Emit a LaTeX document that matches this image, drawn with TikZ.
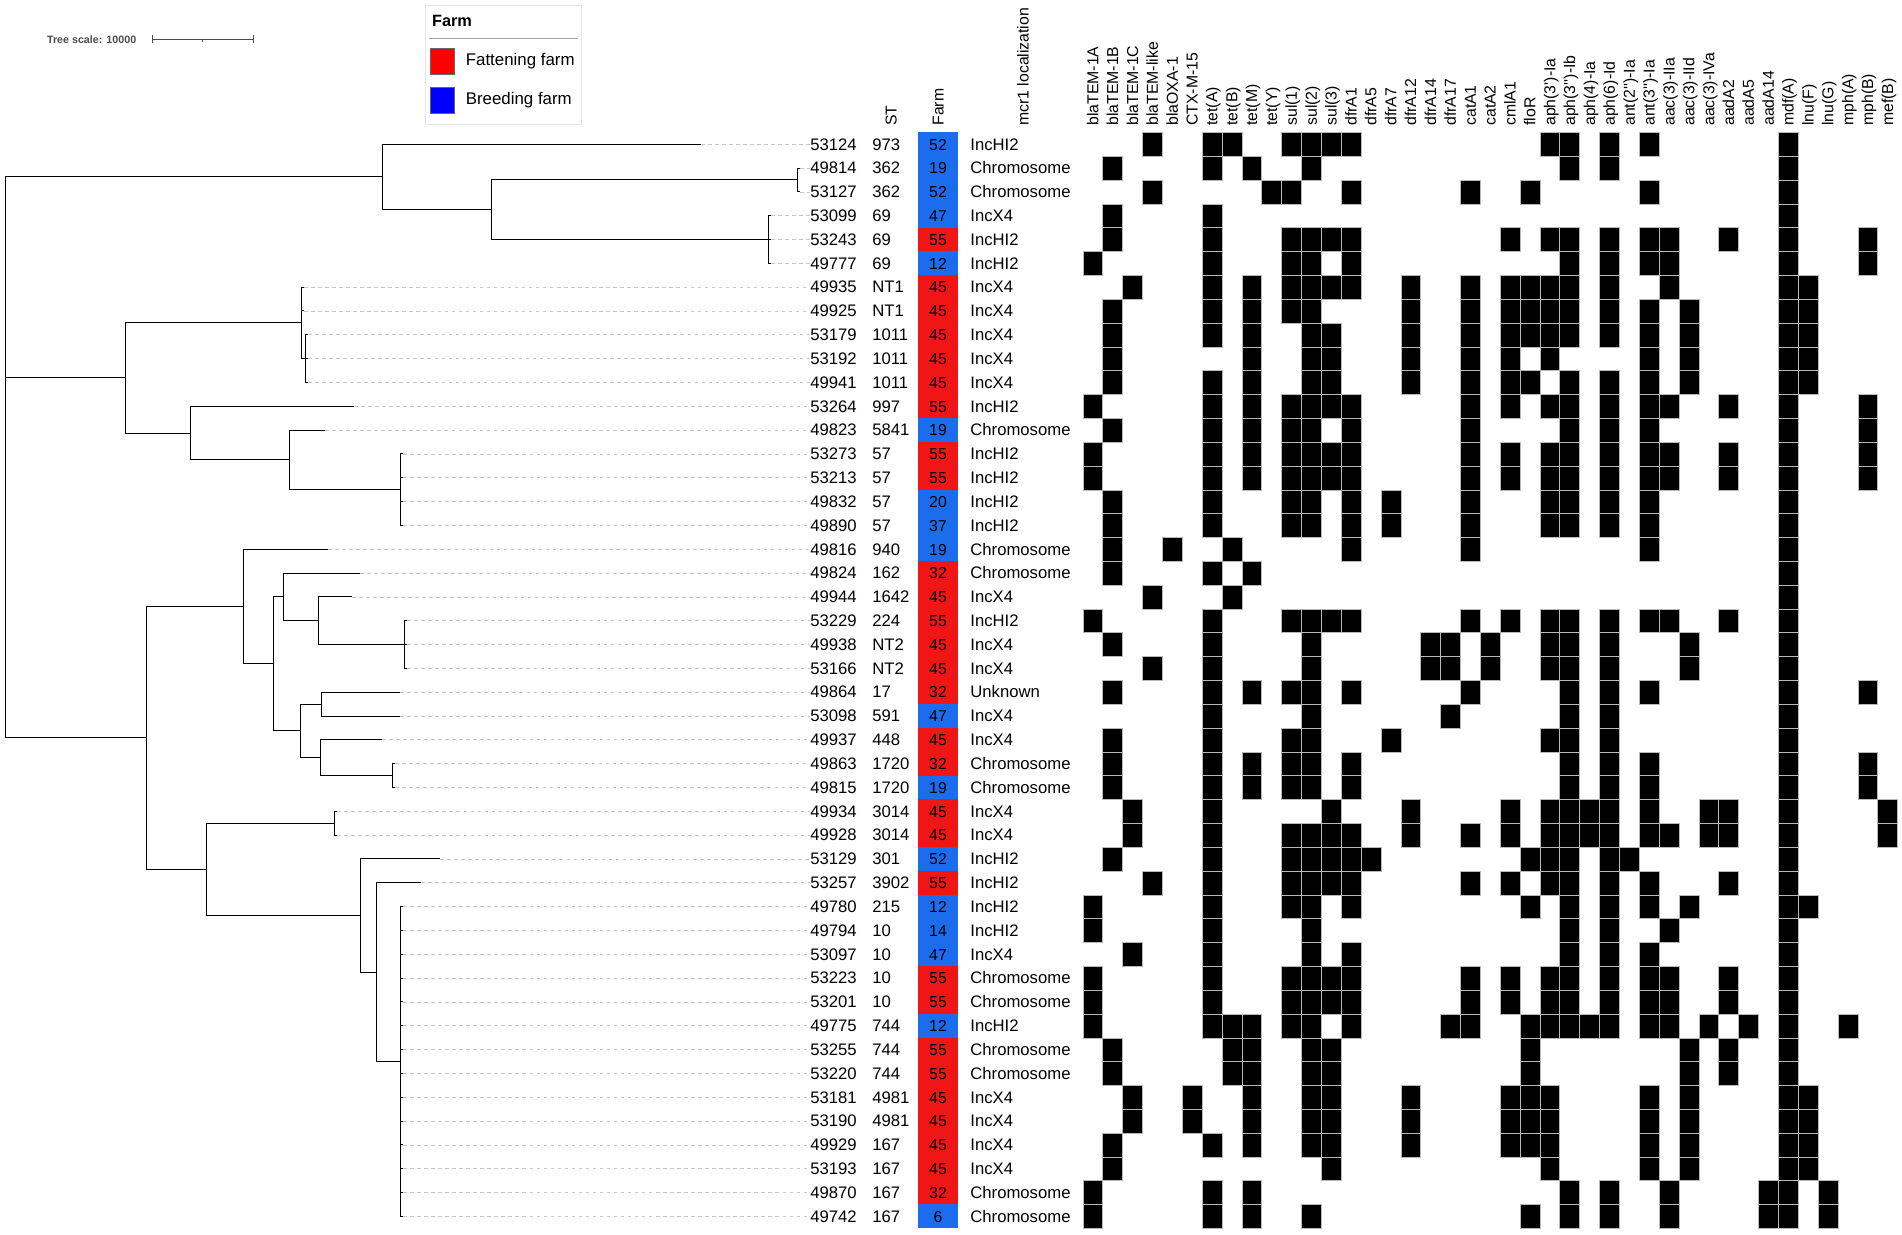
\documentclass[tikz,border=0pt]{standalone}
\usepackage{fontspec}
\setmainfont{Liberation Sans}[Ligatures=TeXOff]
\usetikzlibrary{positioning}

\definecolor{fatred}{RGB}{240,22,22}
\definecolor{breedblue}{RGB}{28,108,238}
\definecolor{legred}{RGB}{255,0,0}
\definecolor{legblue}{RGB}{0,0,255}

\tikzset{
  branch/.style={line width=0.55pt, black},
  leader/.style={gray!45, dashed, dash pattern=on 2pt off 2pt, line width=0.4pt},
  cell/.style={fill=black, draw=gray!55, line width=0.15pt},
  rowlab/.style={anchor=west, inner sep=0pt, text height=6.6pt, text depth=0pt,
    font=\fontsize{9.5}{11}\selectfont},
  farmbox/.style={inner sep=0pt, minimum width=0.788cm, minimum height=0.4766cm,
    text height=6.6pt, text depth=0pt, font=\fontsize{9}{11}\selectfont},
  colhead/.style={rotate=90, anchor=west, inner sep=0pt, text height=6.4pt, text depth=0pt,
    font=\fontsize{9}{11}\selectfont},
  legsq/.style={draw=black!60, line width=0.3pt, minimum width=0.474cm, minimum height=0.52cm, inner sep=0pt},
  legtxt/.style={inner sep=0pt, anchor=west, font=\fontsize{9.6}{11}\selectfont},
  scaletxt/.style={inner sep=0pt, anchor=west, text=black!70, font=\fontsize{6.1}{7}\selectfont\bfseries}
}

\begin{document}
\begin{tikzpicture}[x=0.02cm, y=-0.02cm]
\useasboundingbox (0,0) rectangle (1902,1234);

% tree scale
\node[scaletxt] (tsc) at (46.7,39.4) {Tree scale: 10000};
\coordinate (sb1) at (152.3,39.4);
\coordinate (sb2) at (253.3,39.4);
\coordinate (sbm) at (202.8,39.4);
\draw[black!70, line width=0.5pt] (sb1) -- (sb2);
\draw[black!70, line width=0.5pt] (sb1) ++(0,-4) -- ++(0,8);
\draw[black!70, line width=0.5pt] (sb2) ++(0,-4) -- ++(0,8);
\draw[black!70, line width=0.5pt] (sbm) -- ++(0,2.5);

% legend
\draw[gray!20, line width=0.4pt] (425.5,5.7) rectangle (581.7,124.4);
\node[legtxt, font=\fontsize{9.3}{11}\selectfont\bfseries] (legT) at (431.7,21) {Farm};
\draw[gray!70, line width=0.8pt] (428.6,38.3) -- (577.8,38.3);
\node[legsq, fill=legred] (sqF) at (442.4,60.9) {};
\node[legtxt, right=0.22cm of sqF] (txF) {Fattening farm};
\node[legsq, fill=legblue] (sqB) at (442.4,100.5) {};
\node[legtxt, right=0.22cm of sqB] (txB) {Breeding farm};

% column headers
\node[colhead] (hST) at (891,126) {ST};
\node[colhead] (hFarm) at (938,126) {Farm};
\node[colhead] (hLoc) at (1023,126) {mcr1 localization};
\foreach \g [count=\c from 0] in {blaTEM-1A, blaTEM-1B, blaTEM-1C, blaTEM-like, blaOXA-1, CTX-M-15,
  tet(A), tet(B), tet(M), tet(Y), sul(1), sul(2), sul(3), dfrA1, dfrA5, dfrA7, dfrA12, dfrA14, dfrA17,
  catA1, catA2, cmlA1, floR, aph(3')-Ia, aph(3'')-Ib, aph(4)-Ia, aph(6)-Id, ant(2'')-Ia, ant(3'')-Ia,
  aac(3)-IIa, aac(3)-IId, aac(3)-IVa, aadA2, aadA5, aadA14, mdf(A), lnu(F), lnu(G), mph(A), mph(B), mef(B)}
  \node[colhead] (g\c) at ({1082.7+19.87*(\c+0.5)},126) {\g};

\begin{scope}[shift={(0,144.2)}, y=-0.4766cm]
% isolates: row/tip/id/ST/farm/colour/localization
\foreach \r/\tip/\id/\st/\fm/\fc/\loc in {
  0/701/53124/973/52/breedblue/IncHI2, 1/800/49814/362/19/breedblue/Chromosome,
  2/800/53127/362/52/breedblue/Chromosome, 3/771/53099/69/47/breedblue/IncX4,
  4/771/53243/69/55/fatred/IncHI2, 5/771/49777/69/12/breedblue/IncHI2,
  6/304/49935/NT1/45/fatred/IncX4, 7/304/49925/NT1/45/fatred/IncX4,
  8/308/53179/1011/45/fatred/IncX4, 9/308/53192/1011/45/fatred/IncX4,
  10/308/49941/1011/45/fatred/IncX4, 11/354/53264/997/55/fatred/IncHI2,
  12/325/49823/5841/19/breedblue/Chromosome, 13/403/53273/57/55/fatred/IncHI2,
  14/403/53213/57/55/fatred/IncHI2, 15/403/49832/57/20/breedblue/IncHI2,
  16/403/49890/57/37/breedblue/IncHI2, 17/328/49816/940/19/breedblue/Chromosome,
  18/360/49824/162/32/fatred/Chromosome, 19/352/49944/1642/45/fatred/IncX4,
  20/407/53229/224/55/fatred/IncHI2, 21/407/49938/NT2/45/fatred/IncX4,
  22/407/53166/NT2/45/fatred/IncX4, 23/400/49864/17/32/fatred/Unknown,
  24/400/53098/591/47/breedblue/IncX4, 25/382/49937/448/45/fatred/IncX4,
  26/395/49863/1720/32/fatred/Chromosome, 27/395/49815/1720/19/breedblue/Chromosome,
  28/337/49934/3014/45/fatred/IncX4, 29/337/49928/3014/45/fatred/IncX4,
  30/440/53129/301/52/breedblue/IncHI2, 31/421/53257/3902/55/fatred/IncHI2,
  32/403/49780/215/12/breedblue/IncHI2, 33/403/49794/10/14/breedblue/IncHI2,
  34/403/53097/10/47/breedblue/IncX4, 35/403/53223/10/55/fatred/Chromosome,
  36/403/53201/10/55/fatred/Chromosome, 37/403/49775/744/12/breedblue/IncHI2,
  38/403/53255/744/55/fatred/Chromosome, 39/403/53220/744/55/fatred/Chromosome,
  40/403/53181/4981/45/fatred/IncX4, 41/403/53190/4981/45/fatred/IncX4,
  42/403/49929/167/45/fatred/IncX4, 43/403/53193/167/45/fatred/IncX4,
  44/403/49870/167/32/fatred/Chromosome, 45/403/49742/167/6/breedblue/Chromosome}{
  \coordinate (l\r) at (\tip,\r);
  \node[rowlab] (id\r) at (810,\r) {\id};
  \node[rowlab] (st\r) at (872,\r) {\st};
  \node[farmbox, fill=\fc] (fm\r) at (938,\r) {\fm};
  \node[rowlab] (loc\r) at (970,\r) {\loc};
  \draw[leader] (l\r) -- (id\r.west);
}

% tree
\coordinate (rt) at (5,1.375);
\coordinate (t1) at (382,1.375);
\coordinate (t2) at (491,2.75);
\coordinate (t3) at (797,1.5);
\coordinate (t4) at (768,4);
\coordinate (s1) at (125,9.81);
\coordinate (s2) at (301,7.5);
\coordinate (s21) at (305,9);
\coordinate (s3) at (190,12.125);
\coordinate (s4) at (289,13.25);
\coordinate (s5) at (400,14.5);
\coordinate (u1) at (146,24.92);
\coordinate (u2) at (243,19.4);
\coordinate (v) at (273,21.8);
\coordinate (v1) at (283,19);
\coordinate (v11) at (318,20);
\coordinate (v12) at (404,21);
\coordinate (v2) at (300,24.6);
\coordinate (v21) at (321,23.5);
\coordinate (v22) at (320,25.75);
\coordinate (v23) at (392,26.5);
\coordinate (u3) at (206,30.44);
\coordinate (u31) at (334,28.5);
\coordinate (u32) at (360,32.375);
\coordinate (w) at (376,34.75);
\coordinate (w2) at (400,38.5);
\foreach \p/\q in {rt/t1, rt/s1, rt/u1,
  t1/l0, t1/t2, t2/t3, t2/t4, t3/l1, t3/l2, t4/l3, t4/l4, t4/l5,
  s1/s2, s1/s3, s2/l6, s2/l7, s2/s21, s21/l8, s21/l9, s21/l10,
  s3/l11, s3/s4, s4/l12, s4/s5, s5/l13, s5/l14, s5/l15, s5/l16,
  u1/u2, u1/u3, u2/l17, u2/v, v/v1, v/v2, v1/l18, v1/v11, v11/l19, v11/v12,
  v12/l20, v12/l21, v12/l22, v2/v21, v2/v22, v21/l23, v21/l24, v22/l25, v22/v23,
  v23/l26, v23/l27, u3/u31, u3/u32, u31/l28, u31/l29, u32/l30, u32/w, w/l31, w/w2,
  w2/l32, w2/l33, w2/l34, w2/l35, w2/l36, w2/l37, w2/l38, w2/l39, w2/l40, w2/l41,
  w2/l42, w2/l43, w2/l44, w2/l45}
  \draw[branch] (\p) |- (\q);

% gene presence matrix
\foreach \r/\cols in {
  0/{3,6,7,10,11,12,13,23,24,26,28,35},
  1/{1,6,8,11,24,26,35},
  2/{3,9,10,13,19,22,28,35},
  3/{1,6,35},
  4/{1,6,10,11,12,13,21,23,24,26,28,29,32,35,39},
  5/{0,6,10,11,13,24,26,28,29,35,39},
  6/{2,6,8,10,11,12,13,16,19,21,22,23,24,26,29,35,36},
  7/{1,6,8,10,11,16,19,21,22,23,24,26,28,30,35,36},
  8/{1,6,8,11,12,16,19,21,22,23,24,26,28,30,35,36},
  9/{1,8,11,12,16,19,21,23,28,30,35,36},
  10/{1,6,8,11,12,16,19,21,22,24,26,28,30,35,36},
  11/{0,6,8,10,11,12,13,19,21,23,24,26,28,29,32,35,39},
  12/{1,6,8,10,11,13,19,24,26,28,35,39},
  13/{0,6,8,10,11,12,13,19,21,23,24,26,28,29,32,35,39},
  14/{0,6,8,10,11,12,13,19,21,23,24,26,28,29,32,35,39},
  15/{1,6,10,11,13,15,19,23,24,26,28,35},
  16/{1,6,10,11,13,15,19,23,24,26,28,35},
  17/{1,4,7,13,19,28,35},
  18/{1,6,8,35},
  19/{3,7,35},
  20/{0,6,10,11,12,13,19,21,23,24,26,28,29,32,35},
  21/{1,6,11,17,18,20,23,24,26,30,35},
  22/{3,6,11,17,18,20,23,24,26,30,35},
  23/{1,6,8,10,11,13,19,24,26,28,35,39},
  24/{6,11,18,24,26,35},
  25/{1,6,10,11,15,23,24,26,35},
  26/{1,6,8,10,11,13,24,26,28,35,39},
  27/{1,6,8,10,11,13,24,26,28,35,39},
  28/{2,6,12,16,21,23,24,25,26,28,31,32,35,40},
  29/{2,6,10,11,12,13,16,19,21,23,24,25,26,28,29,31,32,35,40},
  30/{1,6,10,11,12,13,14,22,23,24,26,27,35},
  31/{3,6,10,11,12,13,19,21,23,24,26,28,32,35},
  32/{0,6,10,11,13,22,24,26,28,30,35,36},
  33/{0,6,11,24,26,29,35},
  34/{2,6,11,13,24,26,28,35},
  35/{0,6,10,11,12,13,19,21,23,24,26,28,29,32,35},
  36/{0,6,10,11,12,13,19,21,23,24,26,28,29,32,35},
  37/{0,6,7,8,10,11,13,18,19,22,23,24,25,26,28,29,31,33,35,38},
  38/{1,7,8,11,12,22,30,32,35},
  39/{1,7,8,11,12,22,30,32,35},
  40/{2,5,8,11,12,16,21,22,23,28,30,35,36},
  41/{2,5,8,11,12,16,21,22,23,28,30,35,36},
  42/{1,6,8,11,12,16,21,22,23,28,30,35,36},
  43/{1,12,23,28,30,35,36},
  44/{0,6,8,24,26,29,34,35,37},
  45/{0,6,8,11,22,24,26,29,34,35,37}}
  \foreach \c in \cols
    \fill[cell] ({1082.7+19.87*\c},{\r-0.5}) rectangle +(19.87,1);
\end{scope}
\end{tikzpicture}
\end{document}
